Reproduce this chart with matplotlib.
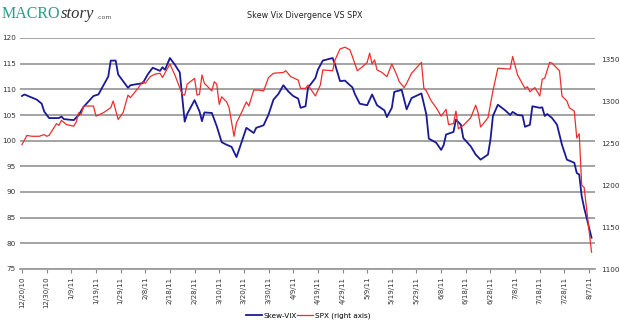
import matplotlib
matplotlib.use("Agg")
import matplotlib.pyplot as plt
import pandas as pd

# ---- data ----
start_date = "2010-12-20"
# Skew-VIX (left axis): day offsets from start_date and values
skew_days = [0, 1, 6, 8, 9, 11, 15, 16, 17, 21, 23, 25, 29, 31, 35, 36, 38, 39, 41, 43,
             44, 49, 51, 53, 56, 57, 58, 60, 62, 64, 66, 67, 70, 72, 73, 74, 77, 79, 81, 83,
             85, 87, 89, 91, 94, 95, 98, 100, 102, 104, 106, 108, 110, 112, 113, 115, 116, 119, 120, 122,
             126, 127, 129, 131, 133, 134, 135, 137, 140, 142, 144, 147, 148, 150, 151, 154, 156, 158, 162, 164,
             165, 168, 170, 171, 172, 175, 176, 178, 179, 182, 184, 186, 189, 190, 191, 193, 196, 198, 199, 201,
             203, 204, 206, 207, 210, 211, 212, 213, 215, 217, 219, 221, 224, 225, 226, 227, 228, 231]
skew_vals = [108.7, 109.0, 108.0, 107.2, 105.7, 104.4, 104.4, 104.7, 104.2, 104.0, 105.0, 106.6, 108.7, 109.0, 112.5, 115.6, 115.6, 112.9, 111.6, 110.3,
             110.8, 111.2, 112.9, 114.2, 113.6, 114.3, 113.8, 116.1, 114.8, 113.3, 103.7, 105.2, 107.9, 105.7, 103.8, 105.5, 105.4, 102.8, 99.7, 99.2,
             98.8, 96.8, 99.6, 102.5, 101.5, 102.5, 103.0, 105.1, 108.0, 109.1, 110.8, 109.6, 108.7, 108.2, 106.4, 106.7, 110.3, 112.2, 113.8, 115.6,
             116.1, 114.8, 111.6, 111.7, 110.8, 110.4, 109.1, 107.2, 106.9, 109.0, 106.9, 105.9, 104.6, 106.4, 109.5, 109.9, 106.1, 108.3, 109.2, 105.1,
             100.4, 99.6, 98.2, 99.1, 101.2, 101.7, 104.1, 103.1, 100.5, 98.9, 97.3, 96.3, 97.3, 100.2, 104.8, 107.0, 105.9, 105.0, 105.6, 105.0,
             104.9, 102.7, 103.1, 106.7, 106.4, 106.5, 104.8, 105.2, 104.4, 103.1, 99.2, 96.3, 95.7, 93.7, 93.4, 89.2, 86.9, 81.1]

# SPX (right axis)
spx_days = [0, 2, 4, 7, 9, 10, 11, 14, 15, 16, 18, 21, 22, 23, 24, 25, 29, 30, 33, 35,
            36, 37, 39, 41, 43, 44, 47, 49, 50, 52, 54, 56, 57, 60, 62, 65, 66, 67, 70, 71,
            72, 73, 74, 77, 78, 79, 80, 81, 83, 84, 86, 87, 89, 91, 92, 94, 96, 98, 100, 102,
            106, 107, 109, 112, 113, 115, 116, 119, 121, 122, 126, 127, 129, 131, 133, 134, 136, 139, 140, 141,
            142, 143, 144, 146, 148, 150, 152, 153, 155, 156, 158, 162, 163, 164, 166, 168, 169, 170, 171, 172,
            173, 175, 176, 177, 179, 182, 184, 185, 186, 189, 191, 193, 198, 199, 201, 204, 205, 206, 208, 210,
            211, 212, 214, 215, 218, 219, 221, 222, 224, 225, 226, 227, 228, 231]
spx_vals = [1248, 1259, 1258, 1258, 1260, 1258, 1259, 1273, 1271, 1277, 1272, 1270, 1275, 1286, 1284, 1294, 1294, 1282, 1286, 1290,
            1292, 1300, 1278, 1286, 1307, 1304, 1315, 1323, 1321, 1329, 1332, 1333, 1328, 1344, 1331, 1308, 1307, 1320, 1327, 1307,
            1308, 1331, 1321, 1312, 1323, 1320, 1296, 1305, 1299, 1292, 1258, 1274, 1286, 1299, 1294, 1313, 1313, 1312, 1328, 1333,
            1334, 1336, 1329, 1325, 1315, 1315, 1319, 1306, 1319, 1337, 1336, 1349, 1362, 1364, 1361, 1353, 1336, 1343, 1346, 1357,
            1344, 1349, 1337, 1334, 1329, 1344, 1331, 1323, 1316, 1321, 1333, 1346, 1315, 1312, 1300, 1292, 1287, 1282, 1286, 1290,
            1272, 1273, 1288, 1267, 1271, 1280, 1295, 1286, 1269, 1280, 1312, 1339, 1338, 1353, 1331, 1315, 1317, 1311, 1316, 1306,
            1326, 1327, 1346, 1345, 1336, 1306, 1300, 1292, 1288, 1256, 1261, 1200, 1197, 1120]

left_ticks = [75, 80, 85, 90, 95, 100, 105, 110, 115, 120]
right_ticks = [1100, 1150, 1200, 1250, 1300, 1350]
tick_step_days = 10
n_xticks = 24

title = "Skew Vix Divergence VS SPX"
series_names = ["Skew-VIX", "SPX (right axis)"]

# ---- build ----
t0 = pd.Timestamp(start_date)
skew_dates = t0 + pd.to_timedelta(skew_days, unit="D")
spx_dates = t0 + pd.to_timedelta(spx_days, unit="D")
xtick_dates = [t0 + pd.Timedelta(days=tick_step_days * k) for k in range(n_xticks)]

fig = plt.figure(figsize=(6.2, 3.24), dpi=100)
ax = fig.add_axes([20 / 620, 1 - 269 / 324, 575 / 620, 231 / 324])
ax2 = ax.twinx()

blue = "#1a1a96"
red = "#ec2d2d"
grid_c = "#9c9c9c"
txt_c = "#333333"
fs = 5.2

l1, = ax.plot(skew_dates, skew_vals, color=blue, lw=1.3, zorder=3)
l2, = ax2.plot(spx_dates, spx_vals, color=red, lw=0.9, zorder=3)

ax.set_ylim(75, 120)
ax.set_yticks(left_ticks)
ax2.set_ylim(1100, 1375)
ax2.set_yticks(right_ticks)

ax.set_xlim(t0 - pd.Timedelta(days=0.8), t0 + pd.Timedelta(days=232.4))
ax.set_xticks(xtick_dates)
ax.set_xticklabels([f"{d.month}/{d.day}/{d.strftime('%y')}" for d in xtick_dates],
                   rotation=90, fontsize=5.0, color=txt_c)

ax.yaxis.grid(True, color=grid_c, lw=1.3)
ax.set_axisbelow(True)
for a in (ax, ax2):
    for s in a.spines.values():
        s.set_visible(False)
ax.spines["bottom"].set_visible(True)
ax.spines["bottom"].set_color(grid_c)
ax.spines["bottom"].set_linewidth(1.3)

ax.tick_params(axis="y", length=0, pad=3, labelsize=fs, labelcolor=txt_c)
ax2.tick_params(axis="y", length=0, pad=4.5, labelsize=fs, labelcolor=txt_c)
ax.tick_params(axis="x", length=3, width=0.8, color="#888888", pad=2.5)

fig.text(0.492, 0.953, title, ha="center", va="center", fontsize=5.8, color="#222222")

# logo
fig.canvas.draw()
renderer = fig.canvas.get_renderer()
t_macro = fig.text(2 / 620, 1 - 13.5 / 324, "MACRO", ha="left", va="center", fontsize=11.5,
                   family="Liberation Serif", color="#2e9a8a")
bb = t_macro.get_window_extent(renderer=renderer)
x_story = (bb.x1 + 0.5) / fig.bbox.width
t_story = fig.text(x_story, 1 - 13.5 / 324, "story", ha="left", va="center", fontsize=12,
                   family="Liberation Serif", style="italic", color="#333333")
bb2 = t_story.get_window_extent(renderer=renderer)
fig.text((bb2.x1 + 2) / fig.bbox.width, 1 - 17.5 / 324, ".com", ha="left", va="center",
         fontsize=4.5, color="#555555")

fig.legend([l1, l2], series_names, loc="center", bbox_to_anchor=(0.497, 1 - 316 / 324),
           ncol=2, frameon=False, fontsize=fs, handlelength=2.2, handletextpad=0.3,
           columnspacing=0.0, borderpad=0)

fig.savefig("out.png", dpi=100)
